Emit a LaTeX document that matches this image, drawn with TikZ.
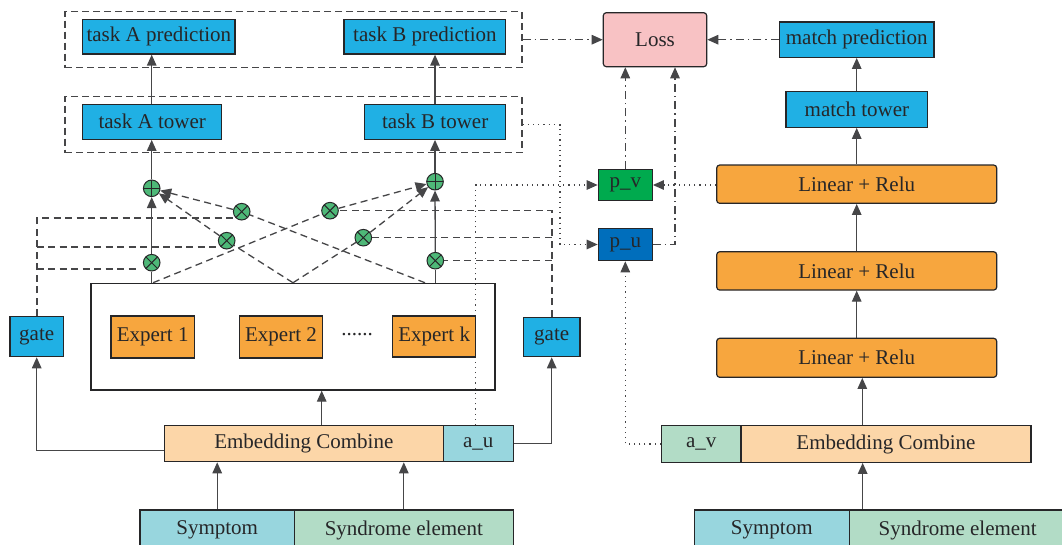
\documentclass[tikz,border=0pt]{standalone}
\usepackage{fontspec}
\setmainfont{Liberation Serif}
\usetikzlibrary{arrows.meta,backgrounds,calc}

\definecolor{ink}{RGB}{38,38,40}
\definecolor{linegray}{RGB}{70,70,72}
\definecolor{cyanbox}{RGB}{32,176,228}
\definecolor{expertor}{RGB}{247,166,62}
\definecolor{losspink}{RGB}{248,194,196}
\definecolor{embedor}{RGB}{252,214,168}
\definecolor{tealbox}{RGB}{152,214,222}
\definecolor{mintbox}{RGB}{178,220,198}
\definecolor{pvgreen}{RGB}{0,170,78}
\definecolor{publue}{RGB}{0,110,188}
\definecolor{opgreen}{RGB}{78,184,120}

\begin{document}
\begin{tikzpicture}[x=1pt,y=-1pt,
  font=\fontsize{21}{24}\selectfont, text=ink,
  blk/.style={draw=ink, line width=1.2pt, inner sep=0pt},
  bluebox/.style={blk, fill=cyanbox},
  orbox/.style={blk, fill=expertor},
  linbox/.style={blk, fill=expertor, rounded corners=3pt},
  lossbox/.style={blk, fill=losspink, rounded corners=3pt},
  embbox/.style={blk, fill=embedor},
  tealb/.style={blk, fill=tealbox},
  mintb/.style={blk, fill=mintbox},
  grp/.style={draw=linegray, line width=1.3pt, dash pattern=on 7pt off 4pt, inner sep=0pt},
  opnode/.style={circle, draw=ink, line width=1pt, fill=opgreen, minimum size=16.6pt, inner sep=0pt},
  sumop/.style={opnode, path picture={\draw[ink,line width=1pt]
      (path picture bounding box.north) -- (path picture bounding box.south)
      (path picture bounding box.west) -- (path picture bounding box.east);}},
  mulop/.style={opnode, path picture={\draw[ink,line width=1pt]
      (path picture bounding box.north west) -- (path picture bounding box.south east)
      (path picture bounding box.north east) -- (path picture bounding box.south west);}},
  ln/.style={draw=linegray, line width=1.3pt},
  arr/.style={-{Triangle[length=11pt,width=9.5pt]}},
  dsh/.style={ln, dash pattern=on 7pt off 4.5pt},
  gdsh/.style={dsh, line width=1.6pt},
  dtt/.style={ln, line width=1.2pt, dash pattern=on 1.2pt off 4pt},
  dshdot/.style={ln, dash pattern=on 8pt off 4pt on 1.5pt off 4pt},
]
\useasboundingbox (0,0) rectangle (1062,545);
\clip (0,0) rectangle (1062,545);

% ---------- left part: multi-task model ----------
\node[grp, minimum width=457pt, minimum height=56pt] (grpTop) at (293.5,39.7) {};
\node[grp, minimum width=457pt, minimum height=56pt] (grpMid) at (293.5,124.7) {};

\node[bluebox, minimum width=152.3pt, minimum height=34.7pt] (predA) at (158.9,36.7) {task A prediction};
\node[bluebox, minimum width=161.7pt, minimum height=34.7pt] (predB) at (424.9,36.7) {task B prediction};
\node[bluebox, minimum width=139pt, minimum height=35pt] (towA) at (152.2,121.8) {task A tower};
\node[bluebox, minimum width=141pt, minimum height=35pt] (towB) at (435.2,121.8) {task B tower};

\node[blk, minimum width=404pt, minimum height=106.7pt] (big) at (293,336.7) {};
\node[orbox, minimum width=83.3pt, minimum height=42pt] (e1) at (152.7,337) {Expert 1};
\node[orbox, minimum width=83.4pt, minimum height=42pt] (e2) at (281,337) {Expert 2};
\node[orbox, minimum width=83pt, minimum height=41pt] (ek) at (434.2,336.5) {Expert k};
\node (edots) at (357,335) {......};

\node[bluebox, minimum width=53.3pt, minimum height=40pt] (gL) at (36.7,336.7) {gate};
\node[bluebox, minimum width=56.7pt, minimum height=39.4pt] (gR) at (551.7,337) {gate};

\node[embbox, minimum width=279pt, minimum height=36pt] (embL) at (303.8,443.7) {Embedding Combine};
\node[tealb, minimum width=70pt, minimum height=36pt] (au) at (478.3,443.7) {a\_u};
\node[tealb, minimum width=154.3pt, minimum height=40pt] (symL) at (217.2,530) {Symptom};
\node[mintb, minimum width=219pt, minimum height=40pt] (synL) at (403.8,530) {Syndrome element};

\node[sumop] (sumA) at (151.7,188.3) {};
\node[sumop] (sumB) at (435,181.7) {};
\node[mulop] (mA1) at (151.7,262.7) {};
\node[mulop] (mA2) at (226.7,240.7) {};
\node[mulop] (mA3) at (241.7,211.7) {};
\node[mulop] (mB1) at (330,210.7) {};
\node[mulop] (mB2) at (363.3,237.7) {};
\node[mulop] (mB3) at (435.3,260.7) {};

% ---------- middle: loss ----------
\node[lossbox, minimum width=103.4pt, minimum height=54pt] (loss) at (655,39.7) {Loss};
\node[blk, fill=pvgreen, minimum width=54pt, minimum height=31.4pt] (pv) at (625.3,185) {p\_v};
\node[blk, fill=publue, minimum width=54pt, minimum height=32.4pt] (pu) at (625.3,244.5) {p\_u};

% ---------- right part: matching model ----------
\node[bluebox, minimum width=154.7pt, minimum height=35.3pt] (mpred) at (856.7,39.7) {match prediction};
\node[bluebox, minimum width=141.7pt, minimum height=35.6pt] (mtow) at (856.9,109.5) {match tower};
\node[linbox, minimum width=280pt, minimum height=38.3pt] (lin3) at (856.7,184.2) {Linear + Relu};
\node[linbox, minimum width=280pt, minimum height=38.3pt] (lin2) at (856.7,270.9) {Linear + Relu};
\node[linbox, minimum width=280pt, minimum height=39pt] (lin1) at (856.7,357.8) {Linear + Relu};
\node[mintb, minimum width=79.3pt, minimum height=36.6pt] (av) at (701.3,444) {a\_v};
\node[embbox, minimum width=290pt, minimum height=36.6pt] (embR) at (886,444) {Embedding Combine};
\node[tealb, minimum width=155pt, minimum height=40pt] (symR) at (771.8,530) {Symptom};
\node[mintb, minimum width=216.7pt, minimum height=40pt] (synR) at (957.6,530) {Syndrome element};

\begin{pgfonlayer}{background}
  \fill[white] (0,0) rectangle (1062,545);

  % inputs to embeddings, embeddings upwards
  \draw[ln,arr] (symL.north) -- (symL.north |- embL.south);
  \draw[ln,arr] (synL.north) -- (synL.north |- embL.south);
  \draw[ln,arr] ([xshift=17.9pt]embL.north) -- ([xshift=17.9pt]embL.north |- big.south);
  \draw[ln,arr] ([yshift=-7pt]embL.west) -| (gL.south);
  \draw[ln,arr] (au.east) -| (gR.south);

  % expert outputs on the own-task columns
  \draw[ln] (big.north -| mA1) -- (mA1);
  \draw[ln,arr] (mA1) -- (sumA);
  \draw[ln,arr] (sumA) -- (sumA |- towA.south);
  \draw[ln,arr] (towA.north -| sumA) -- (sumA |- predA.south);
  \draw[ln] (big.north -| mB3) -- (mB3);
  \draw[ln,arr] (mB3) -- (sumB);
  \draw[ln,arr] (sumB) -- (sumB |- towB.south);
  \draw[ln,arr] (towB.north -| sumB) -- (sumB |- predB.south);

  % cross connections from the experts
  \draw[dsh,arr] ([xshift=-140pt]big.north) -- (mB1) -- (sumB);
  \draw[dsh,arr] (big.north) -- (mB2) -- (sumB);
  \draw[dsh,arr] (big.north) -- (mA2) -- (sumA);
  \draw[dsh,arr] ([xshift=132pt]big.north) -- (mA3) -- (sumA);

  % gate weights
  \draw[gdsh] (gL.north) |- (mA3.south west);
  \draw[dsh] (gL.north |- mA2.south west) -- (mA2.south west);
  \draw[dsh] (gL.north |- mA1.south west) -- ([xshift=-7pt]mA1.south west);
  \draw[gdsh] (gR.north) |- (mB1.east);
  \draw[dsh] (gR.north |- mB2.east) -- (mB2.east);
  \draw[dsh] (gR.north |- mB3.east) -- (mB3.east);

  % matching model
  \draw[ln,arr] ([xshift=14pt]synR.north west) -- ([xshift=14pt]synR.north west |- embR.south);
  \draw[ln,arr] ([xshift=-23.7pt]embR.north) -- ([xshift=-23.7pt]embR.north |- lin1.south);
  \draw[ln,arr] (lin1.north) -- (lin2.south);
  \draw[ln,arr] (lin2.north) -- (lin3.south);
  \draw[ln,arr] (lin3.north) -- (mtow.south -| lin3.north);
  \draw[ln,arr] (mtow.north -| lin3.north) -- (mpred.south -| lin3.north);

  % probability links
  \draw[dtt,arr] ([xshift=-2.6pt]au.north) |- (pv.west);
  \draw[dtt,arr] (grpMid.east) -- ++(37.3,0) |- (pu.west);
  \draw[dtt,arr] (lin3.west |- pv.east) -- (pv.east);
  \draw[dtt,arr] (av.west) -| (pu.south);

  % loss inputs
  \draw[dshdot,arr] (grpTop.east) -- (loss.west);
  \draw[dshdot,arr] (mpred.west) -- (loss.east);
  \draw[dshdot,arr] (pv.north) -- (pv.north |- loss.south);
  \draw[dshdot,arr] (pu.east) -| ([xshift=20pt]loss.south);
\end{pgfonlayer}
\end{tikzpicture}
\end{document}
